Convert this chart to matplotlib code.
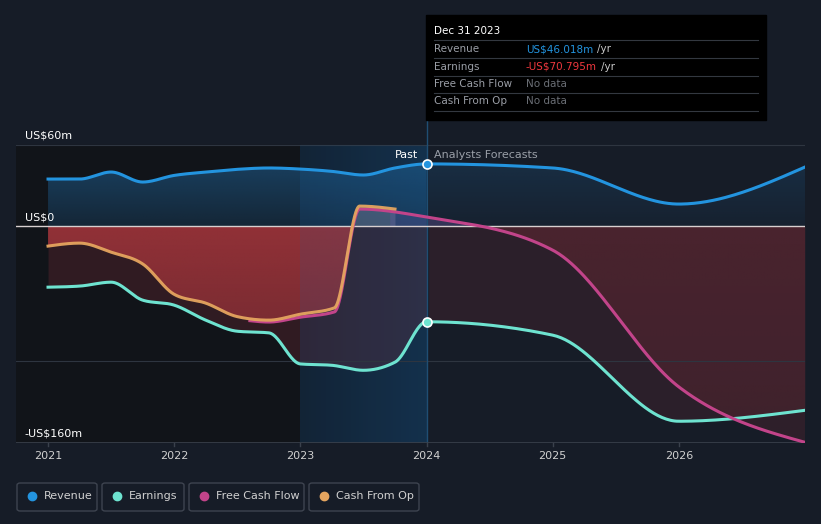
import numpy as np
import matplotlib.pyplot as plt
from matplotlib.patches import FancyBboxPatch, Rectangle
from matplotlib.colors import to_rgb, LinearSegmentedColormap

# values (years, US$m); past is quarterly, forecasts are annual
rev_x = [2021.0, 2021.25, 2021.5, 2021.75, 2022.0, 2022.25, 2022.5, 2022.75, 2023.0, 2023.25, 2023.5, 2023.75, 2024.0,
         2025.0, 2026.0, 2027.0]
rev_y = [34.8, 34.8, 40.0, 32.6, 37.5, 40.0, 42.0, 43.0, 42.2, 40.5, 37.8, 43.0, 46.0,
         43.0, 16.3, 43.7]

earn_x = [2021.0, 2021.25, 2021.5, 2021.75, 2022.0, 2022.25, 2022.5, 2022.75, 2023.0, 2023.25, 2023.5, 2023.75, 2024.0,
          2025.0, 2026.0, 2027.0]
earn_y = [-45.2, -44.4, -41.5, -54.8, -58.5, -69.6, -77.8, -79.0, -102.0, -103.0, -106.7, -100.7, -70.8,
          -80.7, -144.4, -136.3]

fcf_x = [2022.6, 2022.75, 2023.0, 2023.27, 2023.47, 2024.0, 2025.0, 2026.0, 2027.0]
fcf_y = [-70.0, -71.0, -67.4, -63.5, 12.6, 6.7, -17.8, -119.0, -160.0]

cfo_x = [2021.0, 2021.25, 2021.5, 2021.75, 2022.0, 2022.25, 2022.5, 2022.75, 2023.0, 2023.27, 2023.47, 2023.75]
cfo_y = [-14.8, -12.6, -19.3, -28.0, -50.5, -57.0, -67.0, -69.6, -65.2, -60.5, 14.8, 12.6]

years = [2021, 2022, 2023, 2024, 2025, 2026]
ytick_vals = [60, 0, -160]
ytick_text = ["US$60m", "US$0", "-US$160m"]

c_rev = "#2394df"
c_earn = "#6ee3d0"
c_fcf = "#c2448a"
c_cfo = "#e5a55f"
bg = "#161c27"


def smooth(x, y, per=60):
    # monotone-x cubic (same rule as d3.curveMonotoneX)
    x = np.asarray(x, float)
    y = np.asarray(y, float)
    h = np.diff(x)
    s = np.diff(y) / h
    m = np.zeros_like(y)
    for i in range(1, len(y) - 1):
        p = (s[i - 1] * h[i] + s[i] * h[i - 1]) / (h[i - 1] + h[i])
        m[i] = (np.sign(s[i - 1]) + np.sign(s[i])) * min(abs(s[i - 1]), abs(s[i]), 0.5 * abs(p))
    m[0] = (3 * s[0] - m[1]) / 2 if len(y) > 2 else s[0]
    m[-1] = (3 * s[-1] - m[-2]) / 2 if len(y) > 2 else s[-1]
    xs_all, ys_all = [], []
    for i in range(len(h)):
        t = np.linspace(0, 1, per, endpoint=(i == len(h) - 1))
        h00 = 2 * t**3 - 3 * t**2 + 1
        h10 = t**3 - 2 * t**2 + t
        h01 = -2 * t**3 + 3 * t**2
        h11 = t**3 - t**2
        xs_all.append(x[i] + t * h[i])
        ys_all.append(h00 * y[i] + h10 * h[i] * m[i] + h01 * y[i + 1] + h11 * h[i] * m[i + 1])
    return np.concatenate(xs_all), np.concatenate(ys_all)


def grad_fill(ax, xs, y_a, y_b, col, a_top, a_bot, ext, z):
    # gradient-coloured area between two curves, via a clipped image
    poly = ax.fill_between(xs, y_a, y_b, color="none", lw=0)
    rgba = np.zeros((100, 2, 4))
    rgba[..., :3] = to_rgb(col)
    rgba[..., 3] = np.linspace(a_top, a_bot, 100)[:, None]
    im = ax.imshow(rgba, extent=ext, aspect="auto", zorder=z, interpolation="bilinear")
    im.set_clip_path(poly.get_paths()[0], transform=ax.transData)


fig = plt.figure(figsize=(8.21, 5.24), dpi=100)
fig.patch.set_facecolor(bg)
ax = fig.add_axes([16 / 821, 81 / 524, 789 / 821, 323 / 524])
ax.set_facecolor(bg)
x0, x1 = 2020.746, 2027.0
y0, y1 = -160.5, 78.5
ax.set_xlim(x0, x1)
ax.set_ylim(y0, y1)
for s in ax.spines.values():
    s.set_visible(False)
ax.set_xticks([])
ax.set_yticks([])

# past shading and the 2023-2024 band (darker on the left, bluer toward 2024)
ax.add_patch(Rectangle((x0, y0), 2023 - x0, 60 - y0, color="#111419", zorder=0))
band_cmap = LinearSegmentedColormap.from_list("band", ["#111c29", "#132b42"])
ax.imshow(np.linspace(0, 1, 100).reshape(1, -1), extent=[2023, 2024, y0, 60], aspect="auto",
          cmap=band_cmap, zorder=0.2, interpolation="bilinear")

rx, ry = smooth(rev_x, rev_y)
ex, ey = smooth(earn_x, earn_y)
fx, fy = smooth(fcf_x, fcf_y)
cx, cy = smooth(cfo_x, cfo_y)

# revenue area
p = rx <= 2024
grad_fill(ax, rx[p], 0, ry[p], "#1f5f92", 0.6, 0.25, [2021, 2024, 0, 50], 1)
grad_fill(ax, rx[~p], 0, ry[~p], "#1f5f92", 0.28, 0.08, [2024, 2027, 0, 50], 1)

# earnings area (dark) and cash-flow areas (red)
pe = ex <= 2024
ax.fill_between(ex[pe], 0, ey[pe], color="#6a2a35", alpha=0.35, lw=0, zorder=1)
ax.fill_between(ex[~pe], 0, ey[~pe], color="#6a2a35", alpha=0.25, lw=0, zorder=1)
grad_fill(ax, cx, 0, np.minimum(cy, 0), "#a3353b", 0.85, 0.65, [2021, 2024, -75, 0], 1.5)
fneg = fx >= 2023.75
grad_fill(ax, fx[fneg], 0, np.minimum(fy[fneg], 0), "#8c2d37", 0.32, 0.2, [2023.7, 2027, -160, 0], 1.5)
pos = cx >= 2023.3
ax.fill_between(cx[pos], 0, np.maximum(cy[pos], 0), color="#b8a8b8", alpha=0.3, lw=0, zorder=1.6)
fp = (fx >= 2023.7) & (fx <= 2024.5)
ax.fill_between(fx[fp], 0, np.maximum(fy[fp], 0), color="#6a5aa0", alpha=0.35, lw=0, zorder=1.6)

# light blue tint of the band over the areas
ax.add_patch(Rectangle((2023, y0), 1, 60 - y0, color="#1f5f9a", alpha=0.12, lw=0, zorder=2))

# gridlines
ax.axhline(60, color="#2e3540", lw=0.8, zorder=0.8)
ax.axhline(-100, color="#2e3540", lw=0.8, zorder=2.5)
ax.axhline(0, color="#d8d0d0", lw=1.0, zorder=4)
ax.axhline(y0 + 0.3, color="#3a414c", lw=1.2, zorder=4)
ax.plot([2024, 2024], [y0, y1], color="#1f4e73", lw=1.0, zorder=3)

# lines
ax.plot(rx, ry, color=c_rev, lw=2.2, zorder=5)
ax.plot(ex, ey, color=c_earn, lw=2.2, zorder=5)
ax.plot(fx, fy, color=c_fcf, lw=2.2, zorder=5)
ax.plot(cx, cy, color=c_cfo, lw=2.2, zorder=6, alpha=0.95)

# markers at the present
ax.plot([2024], [46.0], "o", ms=6.5, color=c_rev, mec="white", mew=1.2, zorder=7)
ax.plot([2024], [-70.8], "o", ms=6.5, color=c_earn, mec="white", mew=1.2, zorder=7)

for v, t in zip(ytick_vals, ytick_text):
    ax.text(2020.815, v + 3, t, color="white", fontsize=8, va="bottom", ha="left", zorder=8)
for yr in years:
    ax.text(yr, -170, str(yr), color="#d0d0d0", fontsize=8, ha="center", va="center", clip_on=False)
    ax.plot([yr, yr], [y0, y0 - 2.5], color="#3a414c", lw=1, clip_on=False)

ax.text(2023.93, 52.5, "Past", color="white", fontsize=8, ha="right", va="center", zorder=8)
ax.text(2024.06, 52.5, "Analysts Forecasts", color="#9a9fa8", fontsize=8, ha="left", va="center", zorder=8)

# tooltip
tip = Rectangle((426 / 821, 1 - 120 / 524), 340 / 821, 105 / 524, transform=fig.transFigure, color="black", zorder=10)
fig.patches.append(tip)
fig.text(434 / 821, 1 - 31 / 524, "Dec 31 2023", color="white", fontsize=7.5, va="center", zorder=11)
rows = [("Revenue", "US$46.018m", c_rev, "/yr"), ("Earnings", "-US$70.795m", "#f0383e", "/yr"),
        ("Free Cash Flow", "No data", "#6a6e75", ""), ("Cash From Op", "No data", "#6a6e75", "")]
fig.canvas.draw()
rend = fig.canvas.get_renderer()
for i, (lab, val, col, unit) in enumerate(rows):
    yy = 1 - (49 + 17.5 * i) / 524
    fig.text(434 / 821, yy, lab, color="#9a9ea6", fontsize=7.5, va="center", zorder=11)
    t = fig.text(526 / 821, yy, val, color=col, fontsize=7.5, va="center", zorder=11)
    if unit:
        bb = t.get_window_extent(rend)
        fig.text((bb.x1 + 4) / 821, yy, unit, color="#c8c8c8", fontsize=7.5, va="center", zorder=11)
    fig.add_artist(plt.Line2D([434 / 821, 758 / 821], [yy - 9 / 524] * 2, color="#333840", lw=0.8, zorder=11))
fig.add_artist(plt.Line2D([434 / 821, 758 / 821], [1 - 40 / 524] * 2, color="#333840", lw=0.8, zorder=11))

# legend
legend_items = [("Revenue", c_rev, 17, 97), ("Earnings", c_earn, 102, 184),
                ("Free Cash Flow", c_fcf, 189, 304), ("Cash From Op", c_cfo, 309, 419)]
for lab, col, l, r in legend_items:
    box = FancyBboxPatch((l / 821, 1 - 511 / 524), (r - l) / 821, 28 / 524, boxstyle="round,pad=0,rounding_size=0.004",
                         transform=fig.transFigure, fc="none", ec="#3e4450", lw=1)
    fig.patches.append(box)
    fig.add_artist(plt.Line2D([(l + 15) / 821], [1 - 496 / 524], marker="o", ms=6, color=col, lw=0))
    fig.text((l + 27) / 821, 1 - 496 / 524, lab, color="#d0d0d0", fontsize=8, va="center")

fig.savefig("out.png", dpi=100, facecolor=bg)
